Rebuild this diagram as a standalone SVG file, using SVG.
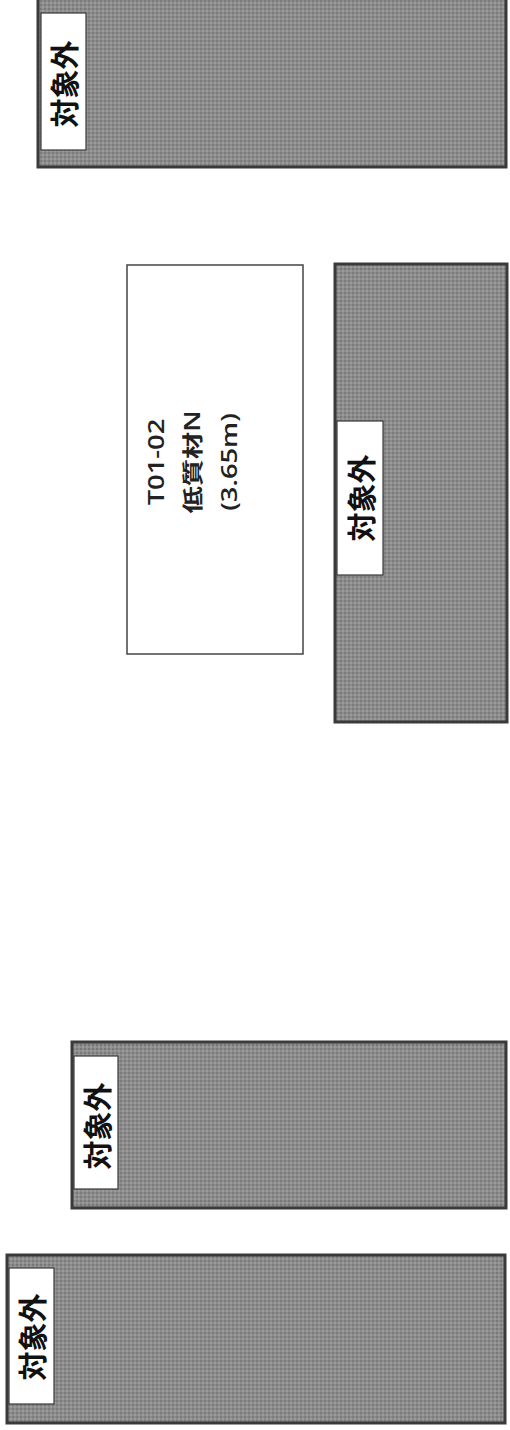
<svg xmlns="http://www.w3.org/2000/svg" width="510" height="1430" viewBox="0 0 510 1430">
<defs>
<pattern id="hatch" width="4" height="4" patternUnits="userSpaceOnUse">
<rect width="4" height="4" fill="#8c8c8c"/>
<rect width="2" height="2" fill="#7a7a7a"/>
<rect x="2" y="2" width="2" height="2" fill="#9a9a9a"/>
</pattern>
</defs>
<style>
.out{fill:url(#hatch);stroke:#3a3a3a;stroke-width:3}
.lab{fill:#fff;stroke:#3a3a3a;stroke-width:1.2}
.lt{font-family:"Noto Sans CJK JP",sans-serif;font-size:29px;font-weight:bold;fill:#111;text-anchor:middle;dominant-baseline:central}
.mt{font-family:"Open Sans","Noto Sans CJK JP",sans-serif;font-size:21px;font-weight:600;fill:#222;text-anchor:middle;dominant-baseline:central}
.box{fill:#fff;stroke:#444;stroke-width:1.5}
</style>
<g id="n1">
<rect class="out" x="38" y="-4" width="468" height="171"/>
<rect class="lab" x="41" y="13" width="45" height="137"/>
<text class="lt" transform="translate(63,84) rotate(-90)">対象外</text>
</g>
<g id="n2">
<rect class="box" x="127" y="265" width="176" height="389"/>
<g transform="translate(192,462) rotate(-90) scale(1.3,1)">
<text class="mt" x="0" y="-36.5">T01-02</text>
<text class="mt" x="0" y="0">低質材N</text>
<text class="mt" x="0" y="37">(3.65m)</text>
</g>
</g>
<g id="n3">
<rect class="out" x="335" y="264" width="172" height="458"/>
<rect class="lab" x="337" y="421" width="46" height="154"/>
<text class="lt" transform="translate(360,498) rotate(-90)">対象外</text>
</g>
<g id="n4">
<rect class="out" x="72" y="1042" width="434" height="166"/>
<rect class="lab" x="74" y="1056" width="44" height="133"/>
<text class="lt" transform="translate(96,1126) rotate(-90)">対象外</text>
</g>
<g id="n5">
<rect class="out" x="7" y="1255" width="498" height="168"/>
<rect class="lab" x="9" y="1268" width="45" height="136"/>
<text class="lt" transform="translate(31,1337) rotate(-90)">対象外</text>
</g>
<g id="connectors"></g>
</svg>
